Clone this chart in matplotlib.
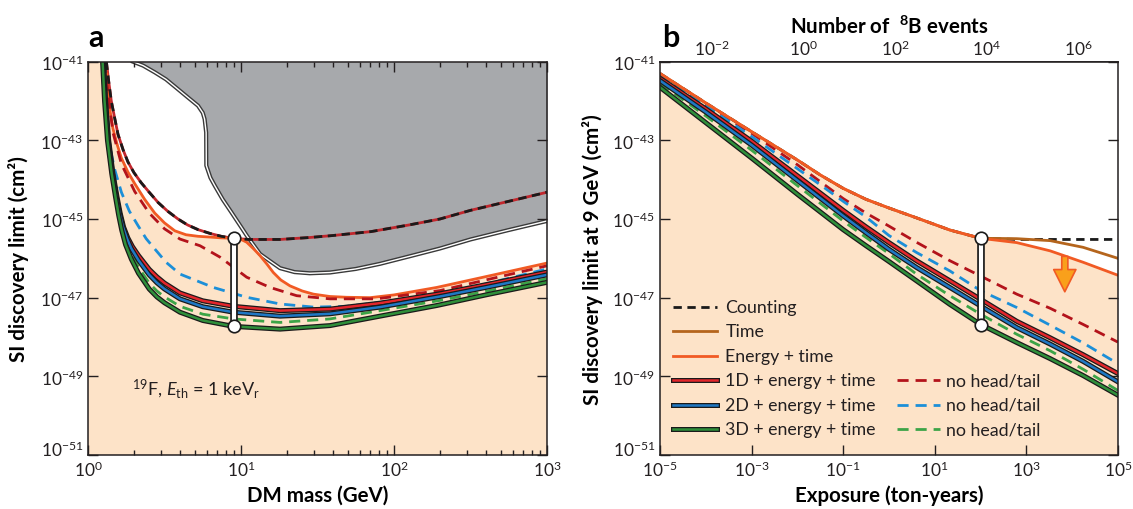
import numpy as np
import matplotlib
matplotlib.use("Agg")
import matplotlib.pyplot as plt
import matplotlib.patheffects as pe
from matplotlib.transforms import ScaledTranslation

plt.rcParams['font.family'] = ['Lato', 'DejaVu Sans']
plt.rcParams['mathtext.fontset'] = 'custom'
plt.rcParams['mathtext.rm'] = 'Lato'
plt.rcParams['mathtext.it'] = 'Lato:italic'
plt.rcParams['mathtext.bf'] = 'Lato:bold'

PEACH = '#fde3c8'
GRAY = '#a7a9ac'
ORANGE = '#f15a24'
BROWN = '#b5651d'
RED = '#e3262b'
BLUE = '#1f78c4'
GREEN = '#2f8f3a'
DRED = '#b3131b'
LBLUE = '#1c8fd8'
LGREEN = '#3ca447'

# ---------- panel a : log10(mass/GeV) vs log10(sigma/cm^2) ----------
gray_m = [0.294, 0.36, 0.436, 0.51, 0.588, 0.65, 0.719, 0.75, 0.762, 0.772, 0.773, 0.80, 0.828,
          0.88, 0.937, 1.0, 1.037, 1.124, 1.2, 1.255, 1.35, 1.45, 1.582, 1.75, 1.908, 2.1, 2.3,
          2.5, 2.75, 3.0]
gray_s = [-41.0, -41.1, -41.27, -41.45, -41.7, -41.9, -42.12, -42.3, -42.46, -42.8, -43.64, -43.95,
          -44.15, -44.5, -44.83, -45.2, -45.42, -45.89, -46.1, -46.25, -46.35, -46.38, -46.36,
          -46.27, -46.14, -45.95, -45.75, -45.52, -45.28, -45.05]

count_m = [0.12, 0.135, 0.152, 0.175, 0.196, 0.23, 0.261, 0.30, 0.348, 0.40, 0.458, 0.52, 0.588,
           0.65, 0.719, 0.80, 0.871, 0.95, 1.05, 1.255, 1.45, 1.6, 1.85, 2.1, 2.3, 2.5, 2.75, 3.0]
count_s = [-41.0, -41.5, -42.0, -42.45, -42.85, -43.25, -43.55, -43.82, -44.08, -44.32, -44.58,
           -44.8, -45.0, -45.15, -45.27, -45.37, -45.44, -45.49, -45.52, -45.52, -45.47, -45.42,
           -45.32, -45.15, -45.0, -44.78, -44.55, -44.32]

etime_m = [0.118, 0.125, 0.142, 0.163, 0.19, 0.218, 0.26, 0.305, 0.37, 0.436, 0.5, 0.567, 0.64,
           0.719, 0.8, 0.871, 0.95, 1.0, 1.037, 1.08, 1.124, 1.17, 1.211, 1.26, 1.32, 1.4, 1.473,
           1.58, 1.69, 1.843, 2.0, 2.279, 2.606, 3.0]
etime_s = [-41.0, -41.4, -42.2, -42.7, -43.1, -43.45, -43.8, -44.1, -44.5, -44.85, -45.1, -45.3,
           -45.4, -45.44, -45.46, -45.48, -45.49, -45.52, -45.59, -45.75, -45.93, -46.15, -46.36,
           -46.55, -46.7, -46.83, -46.91, -46.97, -46.99, -47.0, -46.93, -46.74, -46.46, -46.12]

d1nh_m = [0.112, 0.13, 0.163, 0.218, 0.305, 0.4, 0.5, 0.601, 0.732, 0.863, 1.037, 1.19, 1.364,
          1.582, 1.887, 2.3, 2.6, 3.0]
d1nh_s = [-41.0, -41.8, -42.8, -43.6, -44.3, -44.85, -45.25, -45.51, -45.68, -45.97, -46.48,
          -46.74, -46.95, -47.03, -47.03, -46.82, -46.55, -46.19]

d2nh_m = [0.108, 0.115, 0.131, 0.175, 0.218, 0.27, 0.327, 0.38, 0.436, 0.51, 0.601, 0.819, 1.037,
          1.255, 1.473, 1.69, 1.908, 2.3, 2.6, 3.0]
d2nh_s = [-41.0, -41.8, -42.97, -43.75, -44.32, -44.8, -45.17, -45.5, -45.76, -46.1, -46.4,
          -46.74, -46.99, -47.16, -47.24, -47.22, -47.12, -46.9, -46.65, -46.27]

d1_m = [0.1, 0.115, 0.135, 0.163, 0.19, 0.21, 0.232, 0.26, 0.29, 0.33, 0.4, 0.45, 0.5, 0.601,
        0.75, 0.95, 1.255, 1.582, 1.908, 2.3, 2.6, 3.0]
d1_s = [-41.0, -42.0, -43.0, -43.85, -44.45, -44.85, -45.2, -45.48, -45.7, -45.93, -46.28, -46.47,
        -46.63, -46.88, -47.08, -47.22, -47.33, -47.29, -47.14, -46.9, -46.67, -46.35]

d2_m = [0.1, 0.113, 0.132, 0.16, 0.186, 0.206, 0.228, 0.255, 0.283, 0.33, 0.4, 0.45, 0.5, 0.601,
        0.75, 0.95, 1.255, 1.582, 1.908, 2.3, 2.6, 3.0]
d2_s = [-41.0, -42.0, -43.0, -43.85, -44.45, -44.85, -45.2, -45.5, -45.75, -46.05, -46.42, -46.62,
        -46.78, -47.03, -47.23, -47.37, -47.47, -47.41, -47.24, -46.97, -46.74, -46.42]

d3nh_m = [0.098, 0.111, 0.13, 0.158, 0.183, 0.203, 0.224, 0.25, 0.283, 0.33, 0.4, 0.45, 0.5,
          0.601, 0.75, 0.95, 1.255, 1.582, 1.908, 2.3, 2.6, 3.0]
d3nh_s = [-41.0, -42.0, -43.0, -43.85, -44.45, -44.85, -45.22, -45.55, -45.88, -46.23, -46.63,
          -46.83, -46.98, -47.22, -47.42, -47.54, -47.63, -47.54, -47.33, -47.07, -46.84, -46.52]

d3_m = [0.095, 0.108, 0.127, 0.155, 0.18, 0.2, 0.22, 0.245, 0.283, 0.33, 0.4, 0.45, 0.5, 0.601,
        0.75, 0.95, 1.255, 1.582, 1.908, 2.279, 2.6, 3.0]
d3_s = [-41.0, -42.0, -43.0, -43.85, -44.45, -44.9, -45.28, -45.65, -46.02, -46.38, -46.78,
        -46.98, -47.13, -47.37, -47.58, -47.73, -47.8, -47.71, -47.47, -47.2, -46.93, -46.61]

mass_mark = 9.0
mark_a = [-45.49, -47.73]

# ---------- panel b : log10(exposure/ton-yr) vs log10(sigma at 9 GeV) ----------
expo = [-5, -4, -3, -2, -1.5, -1, -0.5, 0, 0.6, 1.33, 2.0, 2.79, 3.52, 4.24, 5.0]
b_etime = [-41.30, -42.05, -42.78, -43.5, -43.88, -44.22, -44.5, -44.72, -44.97, -45.28, -45.49,
           -45.6, -45.81, -46.1, -46.43]
b_time = [-41.30, -42.05, -42.78, -43.5, -43.88, -44.22, -44.5, -44.72, -44.97, -45.28, -45.49,
          -45.5, -45.55, -45.72, -46.0]
b_count = [-41.30, -42.05, -42.78, -43.5, -43.88, -44.22, -44.5, -44.72, -44.97, -45.28, -45.49,
           -45.52, -45.52, -45.52, -45.52]
b_d1nh = [-41.33, -42.1, -42.82, -43.62, -44.05, -44.48, -44.85, -45.18, -45.59, -46.06, -46.45,
          -46.91, -47.27, -47.68, -48.13]
b_d2nh = [-41.37, -42.12, -42.9, -43.72, -44.13, -44.55, -44.95, -45.42, -45.85, -46.32, -46.82,
          -47.25, -47.7, -48.15, -48.68]
b_d1 = [-41.42, -42.2, -43.02, -43.9, -44.34, -44.78, -45.2, -45.6, -46.06, -46.57, -47.04,
        -47.6, -48.02, -48.45, -48.93]
b_d2 = [-41.48, -42.28, -43.12, -44.02, -44.47, -44.92, -45.35, -45.77, -46.23, -46.74, -47.21,
        -47.76, -48.18, -48.62, -49.14]
b_d3nh = [-41.55, -42.38, -43.25, -44.15, -44.6, -45.05, -45.47, -45.88, -46.4, -46.95, -47.42,
          -47.93, -48.35, -48.82, -49.36]
b_d3 = [-41.65, -42.55, -43.45, -44.37, -44.82, -45.27, -45.68, -46.08, -46.57, -47.17, -47.68,
        -48.14, -48.55, -48.98, -49.48]

expo_mark = 100.0
mark_b = [-45.49, -47.70]
arrow_expo = 10 ** 3.84
arrow_s = [-45.95, -46.85]

B8_PER_TON_YEAR = 74.0

legend_left = ['Counting', 'Time', 'Energy + time', '1D + energy + time', '2D + energy + time',
               '3D + energy + time']
legend_right = ['no head/tail', 'no head/tail', 'no head/tail']


def p(v):
    return 10.0 ** np.asarray(v, dtype=float)


outlined = lambda: [pe.Stroke(linewidth=3.6, foreground='#1a1a1a'), pe.Normal()]

fig = plt.figure(figsize=(11.33, 5.10), dpi=100)
axa = fig.add_axes([0.0777, 0.1059, 0.4051, 0.7712])
axb = fig.add_axes([0.5825, 0.1059, 0.4042, 0.7712])

# ================= panel a =================
axa.set_facecolor(PEACH)
axa.fill_between(p(etime_m), p(etime_s), 1e-41, color='white', lw=0, zorder=0.5)
axa.fill_between(p(gray_m), p(gray_s), 1e-41, color=GRAY, lw=0, zorder=1)
axa.plot(p(gray_m), p(gray_s), color='#3a3a3a', lw=3.0, zorder=1.5)
axa.plot(p(gray_m), p(gray_s), color='white', lw=1.0, zorder=1.6)

axa.plot(p(count_m), p(count_s), color='#c1272d', lw=2.0, zorder=3)
axa.plot(p(count_m), p(count_s), color='#1a1a1a', lw=2.0, ls=(0, (3, 2)), zorder=3.1)
axa.plot(p(etime_m), p(etime_s), color=ORANGE, lw=2.0, zorder=3)
axa.plot(p(d1nh_m), p(d1nh_s), color=DRED, lw=2.0, ls=(0, (4, 2.5)), zorder=3)
axa.plot(p(d2nh_m), p(d2nh_s), color=LBLUE, lw=2.0, ls=(0, (4, 2.5)), zorder=3)
axa.plot(p(d3nh_m), p(d3nh_s), color=LGREEN, lw=2.0, ls=(0, (4, 2.5)), zorder=3.2)
axa.plot(p(d1_m), p(d1_s), color=RED, lw=1.8, path_effects=outlined(), zorder=3.3)
axa.plot(p(d2_m), p(d2_s), color=BLUE, lw=1.8, path_effects=outlined(), zorder=3.3)
axa.plot(p(d3_m), p(d3_s), color=GREEN, lw=1.8, path_effects=outlined(), zorder=3.3)

axa.plot([mass_mark] * 2, p(mark_a), color='#1a1a1a', lw=5.5, solid_capstyle='butt', zorder=4)
axa.plot([mass_mark] * 2, p(mark_a), color='white', lw=3.0, solid_capstyle='butt', zorder=4.1)
axa.plot([mass_mark] * 2, p(mark_a), 'o', ms=9, mfc='white', mec='#1a1a1a', mew=1.2, zorder=4.2)

axa.text(1.95, 10 ** -49.3, r'$^{19}$F, $E_{\rm th}$ = 1 keV$_{\rm r}$', fontsize=13,
         va='center', ha='left', color='#231f20')

axa.set_xscale('log')
axa.set_yscale('log')
axa.set_xlim(1, 1000)
axa.set_ylim(1e-51, 1e-41)
axa.set_yticks([1e-51, 1e-49, 1e-47, 1e-45, 1e-43, 1e-41])
axa.yaxis.set_minor_locator(matplotlib.ticker.NullLocator())
axa.tick_params(which='both', direction='in', top=True, right=True, labelsize=12.5,
                colors='#231f20')
axa.tick_params(which='major', length=7, width=1.0)
axa.tick_params(which='minor', length=3.5, width=1.0)
axa.set_xlabel('DM mass (GeV)', fontsize=14.8, fontweight='bold')
axa.set_ylabel('SI discovery limit (cm²)', fontsize=14.8, fontweight='bold')
axa.xaxis.set_label_coords(0.5, -0.076)
axa.yaxis.set_label_coords(-0.128, 0.5)

# ================= panel b =================
axb.set_facecolor(PEACH)
axb.fill_between(p(expo), p(b_etime), 1e-41, color='white', lw=0, zorder=0.5)
axb.plot(p(expo), p(b_count), color='#1a1a1a', lw=2.0, ls=(0, (3, 2)), zorder=3)
axb.plot(p(expo), p(b_time), color=BROWN, lw=2.0, zorder=3.05)
axb.plot(p(expo), p(b_etime), color=ORANGE, lw=2.0, zorder=3.1)
axb.plot(p(expo), p(b_d1nh), color=DRED, lw=2.0, ls=(0, (4, 2.5)), zorder=3)
axb.plot(p(expo), p(b_d2nh), color=LBLUE, lw=2.0, ls=(0, (4, 2.5)), zorder=3)
axb.plot(p(expo), p(b_d3nh), color=LGREEN, lw=2.0, ls=(0, (4, 2.5)), zorder=3.2)
axb.plot(p(expo), p(b_d1), color=RED, lw=1.8, path_effects=outlined(), zorder=3.3)
axb.plot(p(expo), p(b_d2), color=BLUE, lw=1.8, path_effects=outlined(), zorder=3.3)
axb.plot(p(expo), p(b_d3), color=GREEN, lw=1.8, path_effects=outlined(), zorder=3.3)

axb.plot([expo_mark] * 2, p(mark_b), color='#1a1a1a', lw=5.5, solid_capstyle='butt', zorder=4)
axb.plot([expo_mark] * 2, p(mark_b), color='white', lw=3.0, solid_capstyle='butt', zorder=4.1)
axb.plot([expo_mark] * 2, p(mark_b), 'o', ms=9, mfc='white', mec='#1a1a1a', mew=1.2, zorder=4.2)

axb.annotate('', xy=(arrow_expo, 10 ** arrow_s[1]), xytext=(arrow_expo, 10 ** arrow_s[0]),
             arrowprops=dict(arrowstyle='simple,head_width=0.8,head_length=0.8,tail_width=0.22',
                             fc='#f9a01b', ec=ORANGE, lw=1.2, mutation_scale=20,
                             shrinkA=0, shrinkB=0), zorder=5)

# legend drawn by hand
left_styles = [dict(color='#1a1a1a', ls=(0, (3, 2))), dict(color=BROWN), dict(color=ORANGE),
               dict(color=RED, path_effects=outlined()), dict(color=BLUE, path_effects=outlined()),
               dict(color=GREEN, path_effects=outlined())]
right_colors = [DRED, LBLUE, LGREEN]
row0, row_step = 0.377, 0.0624
for i, (lab, st) in enumerate(zip(legend_left, left_styles)):
    y = row0 - i * row_step
    lw = 1.8 if 'path_effects' in st else 2.0
    axb.plot([0.028, 0.124], [y, y], transform=axb.transAxes, lw=lw, zorder=5, **st)
    axb.text(0.143, y, lab, transform=axb.transAxes, fontsize=12.8, va='center', ha='left',
             color='#231f20', zorder=5)
for j, (lab, c) in enumerate(zip(legend_right, right_colors)):
    y = row0 - (j + 3) * row_step
    axb.plot([0.517, 0.611], [y, y], transform=axb.transAxes, lw=2.0, color=c,
             ls=(0, (4, 2.5)), zorder=5)
    axb.text(0.625, y, lab, transform=axb.transAxes, fontsize=12.8, va='center', ha='left',
             color='#231f20', zorder=5)

axb.set_xscale('log')
axb.set_yscale('log')
axb.set_xlim(1e-5, 1e5)
axb.set_ylim(1e-51, 1e-41)
axb.set_xticks([1e-5, 1e-3, 1e-1, 1e1, 1e3, 1e5])
axb.set_yticks([1e-51, 1e-49, 1e-47, 1e-45, 1e-43, 1e-41])
axb.xaxis.set_minor_locator(matplotlib.ticker.NullLocator())
axb.yaxis.set_minor_locator(matplotlib.ticker.NullLocator())
axb.tick_params(which='both', direction='in', top=False, right=True, labelsize=12.5,
                colors='#231f20', length=7, width=1.0)
axb.set_xlabel('Exposure (ton-years)', fontsize=14.8, fontweight='bold')
axb.set_ylabel('SI discovery limit at 9 GeV (cm²)', fontsize=14.8, fontweight='bold')
axb.xaxis.set_label_coords(0.5, -0.076)
axb.yaxis.set_label_coords(-0.125, 0.5)

top = axb.secondary_xaxis('top', functions=(lambda e: e * B8_PER_TON_YEAR,
                                             lambda n: n / B8_PER_TON_YEAR))
top.set_xticks([1e-2, 1e0, 1e2, 1e4, 1e6])
top.xaxis.set_minor_locator(matplotlib.ticker.NullLocator())
top.tick_params(direction='in', length=7, width=1.0, labelsize=12.5, colors='#231f20', pad=3)
top.set_xlabel(r'Number of  $^{\mathbf{8}}$B events', fontsize=14.8, fontweight='bold',
               labelpad=4)

for ax in (axa, axb):
    for s in ax.spines.values():
        s.set_linewidth(1.1)
        s.set_color('#231f20')
        s.set_zorder(6)
    # lift the lowest y label clear of the x labels
    lbl = ax.get_yticklabels()[0]
    lbl.set_transform(lbl.get_transform() + ScaledTranslation(0, 5 / 72, fig.dpi_scale_trans))
top.spines['top'].set_linewidth(1.1)

fig.text(88 / 1133, 1 - 38 / 510, 'a', fontsize=22, fontweight='bold', va='center', ha='left')
fig.text(662 / 1133, 1 - 38 / 510, 'b', fontsize=22, fontweight='bold', va='center', ha='left')

fig.savefig('out.png', dpi=100)
